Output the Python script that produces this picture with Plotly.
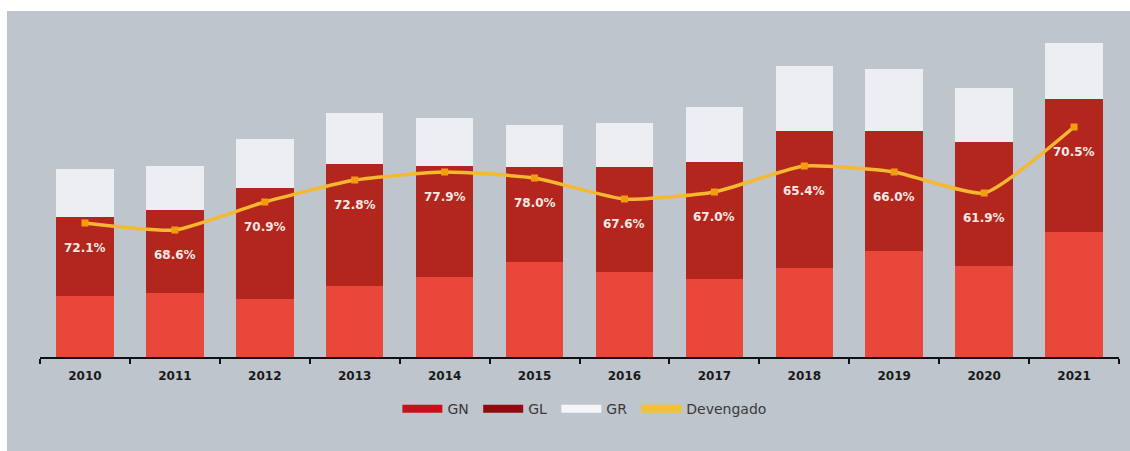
import plotly.graph_objects as go

years = ["2010", "2011", "2012", "2013", "2014", "2015",
         "2016", "2017", "2018", "2019", "2020", "2021"]
gn = [61, 64, 58, 71, 80, 95, 85, 78, 89, 106, 91, 125]
gl = [79, 83, 111, 122, 111, 95, 105, 117, 137, 120, 124, 133]
gr = [48, 44, 49, 51, 48, 42, 44, 55, 65, 62, 54, 56]
devengado = [134, 127, 155, 177, 185, 179, 158, 165, 191, 185, 164, 230]
pct_labels = ["72.1%", "68.6%", "70.9%", "72.8%", "77.9%", "78.0%",
              "67.6%", "67.0%", "65.4%", "66.0%", "61.9%", "70.5%"]

W, H = 1130, 451
ML, MR, MT, MB = 40, 11, 20, 94
FONT = "DejaVu Sans, Verdana, sans-serif"

fig = go.Figure()
fig.add_bar(x=years, y=gn, name="GN", marker=dict(color="#e8473a", line=dict(width=0)),
            showlegend=False, hoverinfo="skip")
fig.add_bar(x=years, y=gl, name="GL", marker=dict(color="#b3261e", line=dict(width=0)),
            showlegend=False, hoverinfo="skip")
fig.add_bar(x=years, y=gr, name="GR", marker=dict(color="#eceef1", line=dict(width=0)),
            showlegend=False, hoverinfo="skip")
fig.add_scatter(x=years, y=devengado, name="Devengado", mode="lines+markers",
                line=dict(color="#f5b82e", width=3.5, shape="spline", smoothing=0.5),
                marker=dict(symbol="square", size=7, color="#f39c12"),
                showlegend=False)

# legend entries (wide swatches)
NB = "\u00a0"
for nm, col in [("GN" + NB, "#c8101a"), ("GL" + NB, "#8e0c10"), ("GR" + NB, "#f4f6f8"),
                ("Devengado", "#f2c230")]:
    fig.add_scatter(x=[years[0]], y=[None], mode="lines", name=nm,
                    line=dict(color=col, width=8), hoverinfo="skip")

for i, (v, t) in enumerate(zip(devengado, pct_labels)):
    fig.add_annotation(x=i, y=v, xref="x", yref="y", text=t, showarrow=False, yshift=-25,
                       font=dict(family=FONT, size=12, color="#f7e9e4", weight="bold"),
                       xanchor="center", yanchor="middle")

# grey panel background
pw = W - ML - MR
ph = H - MT - MB
x0 = -(ML - 7) / pw
x1 = 1 + MR / pw
y1 = 1 + (MT - 11) / ph
y0 = -MB / ph
fig.add_shape(type="rect", xref="paper", yref="paper", x0=x0, x1=x1, y0=y0, y1=y1,
              fillcolor="#bfc5cc", line=dict(width=0), layer="below")

fig.update_layout(
    width=W, height=H,
    margin=dict(l=ML, r=MR, t=MT, b=MB),
    barmode="stack", bargap=0.36,
    paper_bgcolor="white", plot_bgcolor="rgba(0,0,0,0)",
    font=dict(family=FONT, size=12, color="#333"),
    xaxis=dict(type="category", categoryorder="array", categoryarray=years,
               range=[-0.5, len(years) - 0.5],
               tickson="boundaries", ticks="outside", ticklen=5,
               tickcolor="#111", tickwidth=1.5, showline=True, linecolor="#111",
               linewidth=2, showgrid=False, ticklabelstandoff=7, tickangle=0,
               tickfont=dict(family=FONT, size=12, color="#1a1a1a", weight="bold")),
    yaxis=dict(range=[0, 337], visible=False, showgrid=False, zeroline=False),
    legend=dict(orientation="h", x=0.505, xanchor="center", y=-0.155, yanchor="middle",
                bgcolor="rgba(0,0,0,0)", font=dict(family=FONT, size=14, color="#3a3a3a"),
                itemwidth=40, traceorder="normal"),
    showlegend=True,
)

fig.write_html("out.html", config={"displayModeBar": False},
               post_script="document.body.style.margin='0px';")
